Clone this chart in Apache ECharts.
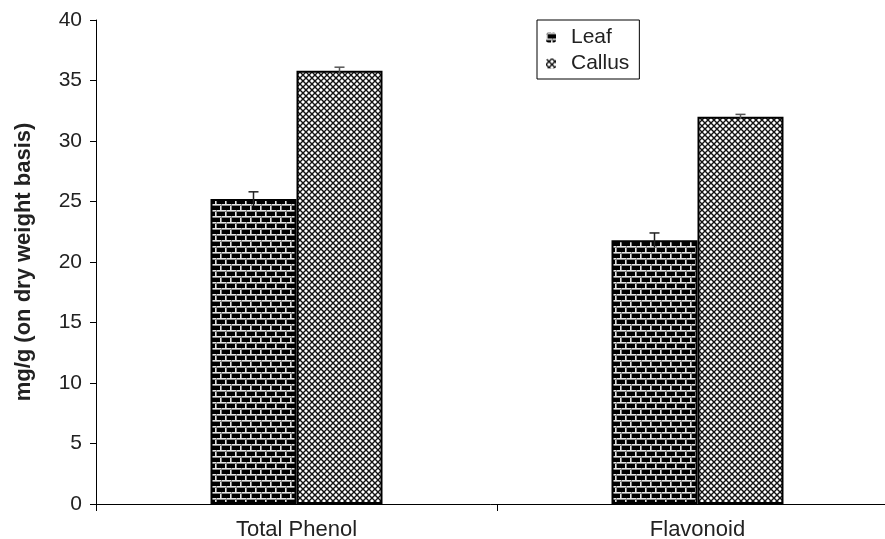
<!DOCTYPE html>
<html>
<head>
<meta charset="utf-8">
<script src="https://cdn.jsdelivr.net/npm/echarts@6/dist/echarts.min.js"></script>
<style>
  html, body { margin: 0; padding: 0; background: #fff; }
  #chart { width: 885px; height: 539px; }
</style>
</head>
<body>
<div id="chart"></div>
<script>
const categories = ['Total Phenol', 'Flavonoid'];
const leafValues = [25.2, 21.8];
const leafErrors = [0.6, 0.6];
const callusValues = [35.8, 32.0];
const callusErrors = [0.3, 0.2];
const yTicks = { min: 0, max: 40, step: 5 };

const FONT = '"Liberation Sans", Arial, sans-serif';
const BAR_W = 86;

// Brick fill: black bricks with light mortar lines, alternate rows offset
function brickPattern() {
  const c = document.createElement('canvas');
  c.width = 10; c.height = 12;
  const g = c.getContext('2d');
  g.fillStyle = '#000';
  g.fillRect(0, 0, 10, 12);
  g.fillStyle = '#e6e6e6';
  g.fillRect(0, 0, 10, 1);
  g.fillRect(0, 6, 10, 1);
  g.fillRect(0, 0, 1, 6);
  g.fillRect(5, 6, 1, 6);
  g.fillStyle = '#8a8a8a';
  g.fillRect(0, 1, 10, 1);
  g.fillRect(0, 7, 10, 1);
  g.fillRect(1, 0, 1, 6);
  g.fillRect(6, 6, 1, 6);
  return c;
}

// Cross-hatch fill: dark diagonal lattice with white diamond holes
function hatchPattern() {
  const s = 6;
  const c = document.createElement('canvas');
  c.width = s; c.height = s;
  const g = c.getContext('2d');
  g.fillStyle = '#fff';
  g.fillRect(0, 0, s, s);
  g.strokeStyle = '#111';
  g.lineWidth = 1.4;
  g.beginPath();
  g.moveTo(-1, -1); g.lineTo(s + 1, s + 1);
  g.moveTo(s + 1, -1); g.lineTo(-1, s + 1);
  g.stroke();
  return c;
}

const leafFill = { image: brickPattern(), repeat: 'repeat' };
const callusFill = { image: hatchPattern(), repeat: 'repeat' };

function errorSeries(values, errors, offset, color) {
  return {
    type: 'custom',
    silent: true,
    z: 5,
    data: values.map((v, i) => [i, v, errors[i]]),
    renderItem: function (params, api) {
      const i = api.value(0), v = api.value(1), e = api.value(2);
      const top = api.coord([i, v + e]);
      const bot = api.coord([i, v - e]);
      const x = top[0] + offset;
      const cap = 5;
      const style = { stroke: color, lineWidth: 1.5 };
      return {
        type: 'group',
        children: [
          { type: 'line', shape: { x1: x, y1: top[1], x2: x, y2: bot[1] }, style },
          { type: 'line', shape: { x1: x - cap, y1: top[1], x2: x + cap, y2: top[1] }, style }
        ]
      };
    }
  };
}

const chart = echarts.init(document.getElementById('chart'), null, { renderer: 'canvas' });
chart.setOption({
  animation: false,
  backgroundColor: '#fff',
  textStyle: { fontFamily: FONT },
  grid: { left: 96, top: 20, height: 484, width: 802, outerBoundsMode: 'none', containLabel: false },
  legend: {
    orient: 'vertical',
    left: 537,
    top: 20,
    padding: [7, 10, 5, 9],
    itemGap: 5,
    itemWidth: 10,
    itemHeight: 10,
    borderColor: '#000',
    borderWidth: 1,
    textStyle: { fontSize: 21, color: '#222', fontFamily: FONT, padding: [0, 0, 0, 10] },
    data: [
      { name: 'Leaf', itemStyle: { borderWidth: 0 } },
      { name: 'Callus', itemStyle: { borderWidth: 0 } }
    ]
  },
  xAxis: {
    type: 'category',
    data: categories,
    axisLine: { lineStyle: { color: '#000', width: 1 } },
    axisTick: { show: true, length: 7, lineStyle: { color: '#000' } },
    axisLabel: { fontSize: 22, color: '#222', margin: 15, fontFamily: FONT },
    splitLine: { show: false }
  },
  yAxis: {
    type: 'value',
    min: yTicks.min,
    max: yTicks.max,
    interval: yTicks.step,
    name: 'mg/g (on dry weight basis)',
    nameLocation: 'middle',
    nameGap: 61,
    nameTextStyle: { fontSize: 22, fontWeight: 'bold', color: '#222', fontFamily: FONT },
    axisLine: { show: true, lineStyle: { color: '#000', width: 1 } },
    axisTick: { show: true, length: 6, lineStyle: { color: '#000' } },
    axisLabel: { fontSize: 21, color: '#222', margin: 14, fontFamily: FONT },
    splitLine: { show: false }
  },
  series: [
    {
      name: 'Leaf',
      type: 'bar',
      barWidth: BAR_W,
      barGap: '0%',
      data: leafValues,
      itemStyle: { color: leafFill, borderColor: '#000', borderWidth: 2 }
    },
    {
      name: 'Callus',
      type: 'bar',
      barWidth: BAR_W,
      barGap: '0%',
      data: callusValues,
      itemStyle: { color: callusFill, borderColor: '#000', borderWidth: 2 }
    },
    errorSeries(leafValues, leafErrors, -BAR_W / 2, '#222'),
    errorSeries(callusValues, callusErrors, BAR_W / 2, '#555')
  ]
});
</script>
</body>
</html>
